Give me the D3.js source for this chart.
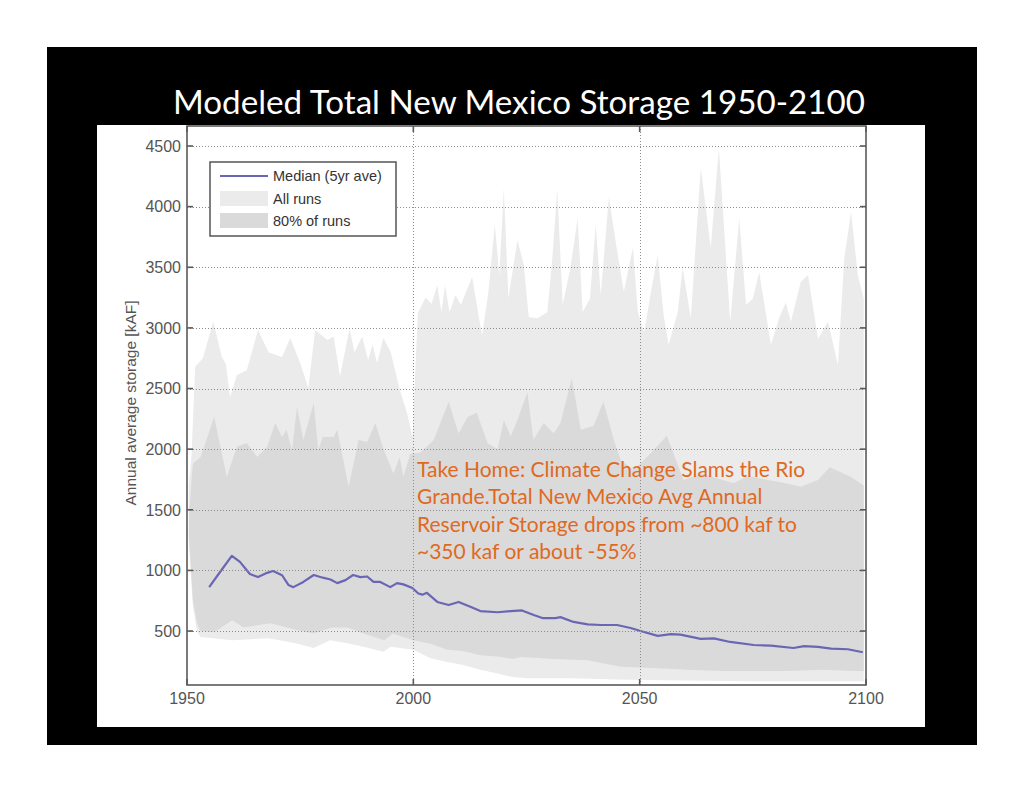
<!DOCTYPE html>
<html><head><meta charset="utf-8">
<script src="https://cdn.jsdelivr.net/npm/d3@7"></script>
<style>html,body{margin:0;padding:0;background:#fff}</style>
</head><body>
<svg id="c" width="1024" height="791"></svg>
<script>
// ---------------- data (kAF) ----------------
const xTicks = [1950, 2000, 2050, 2100];
const yTicks = [500, 1000, 1500, 2000, 2500, 3000, 3500, 4000, 4500];

// All runs – upper envelope
const maxYears = [1950.4,1951.0,1951.8,1953.5,1955.8,1957.7,1958.6,1959.5,1961,1963.2,1965.7,1968,1971,1972.8,1975,1976.8,1978.3,1981,1982.4,1983.8,1985.9,1987,1988.7,1990,1991,1992,1993.4,1995,1997,1998.6,1999.8,2001,2002.7,2004,2005.3,2006.2,2007,2008,2009.3,2010.5,2013,2014.4,2015.2,2016.6,2018,2019,2020,2021,2023,2024.4,2025.5,2027.4,2029.6,2030.7,2031.8,2033,2034.7,2036.3,2037.4,2039,2040.3,2041.4,2043.2,2044.7,2046.5,2048.5,2049.6,2051,2052.5,2054,2055.3,2056.4,2058.4,2059.5,2061.3,2063.5,2065.7,2067.5,2070,2072,2073.5,2075,2076.4,2079,2080.8,2082.3,2083.4,2085.6,2087.2,2089.4,2091.6,2093.8,2095.2,2096.7,2098.2,2099.5];
const allMax = [1700,1950,2680,2750,3050,2760,2700,2430,2610,2650,2982,2800,2760,2916,2710,2504,2982,2900,2930,2600,2995,2800,2930,2735,2860,2710,2916,2800,2490,2300,2100,3120,3250,3200,3350,3130,3350,3130,3270,3190,3420,3105,2940,3300,3850,3435,4150,3245,3725,3520,3090,3080,3130,3575,4137,3190,3495,3905,3130,3240,3850,3270,4080,3710,3300,3660,3130,2965,3300,3600,3105,2860,3130,3495,3080,4320,3660,4480,3050,3905,3190,3240,3460,2860,3080,3210,3050,3380,3435,2910,3050,2695,3575,3955,3435,3240];

// All runs – lower envelope
const minYears = [1950.4,1951.3,1952.2,1953,1955.8,1960,1968,1974,1978,1981.6,1985.4,1989,1993.4,1995,2000,2003.8,2007.5,2011,2014.8,2018.6,2022,2025,2035,2045,2055,2065,2075,2085,2095,2099.5];
const allMin = [1250,700,500,450,440,425,440,400,360,425,400,370,330,370,345,275,245,220,180,150,120,110,110,100,95,90,85,85,85,85];

// 80% of runs – upper (90th pct)
const p90Years = [1950.5,1951.3,1953,1956,1958.8,1961,1963.2,1965.5,1967.7,1969.5,1971,1972,1973.2,1974.3,1975.7,1978,1979,1980,1982.4,1983.2,1985.7,1987.9,1989.8,1991.6,1993.4,1995.6,1997,1997.8,1999.3,2001.5,2004.5,2007.8,2010,2012,2014,2016.4,2018.6,2020,2021.5,2023,2025.2,2026.5,2028.8,2031,2032.5,2035,2037,2039.8,2042,2044.3,2045.8,2048.7,2052,2056,2059.7,2063.5,2067,2070.8,2074,2078.3,2082,2085.6,2089.4,2092,2096.7,2099.5];
const p90 = [1500,1880,1935,2265,1770,2020,2050,1935,2020,2215,2100,2160,1990,2350,2075,2380,1990,2100,2100,2160,1690,2075,2060,2215,2000,1800,1935,1770,1960,1970,2075,2390,2130,2265,2300,2050,2000,2240,2105,2240,2470,2075,2215,2130,2215,2585,2160,2190,2390,2075,1910,1830,1950,2110,1745,1800,1760,1720,1780,1745,1720,1690,1745,1850,1770,1700];

// 80% of runs – lower (10th pct)
const p10Years = [1950.4,1951.3,1952.2,1953,1956,1960,1962.5,1968.4,1974,1978,1982,1985.4,1989,1993.6,1995.5,2000,2003.8,2007.5,2011,2014.8,2018.6,2022,2023.7,2031,2038.5,2045.8,2053,2060.6,2068,2075,2082.7,2090,2097.3,2099.5];
const p10 = [1300,760,570,500,490,590,530,565,510,480,530,530,480,425,480,425,395,345,335,300,290,270,285,270,260,205,195,180,170,170,170,180,170,170];

// Median (5yr ave)
const medYears = [1954.9,1957.3,1959.9,1961.7,1962.8,1963.9,1965.7,1967.7,1969,1971,1972.4,1973.5,1975.7,1978,1980,1981.7,1983.2,1985,1986.7,1988.3,1989.8,1991.2,1992.7,1994.9,1996.4,1997.8,1999.8,2001.1,2002,2003,2005.3,2007.8,2010,2012.6,2014.8,2018.6,2021.5,2024,2026.6,2028.5,2031.4,2032.5,2035.4,2038.5,2041.4,2045,2048,2050.2,2054,2056.9,2059,2063.5,2066.4,2070,2075.2,2079,2084,2086.3,2089.4,2092.3,2096,2099.3];
const median = [863,987,1120,1070,1020,970,945,980,995,960,880,862,905,962,940,925,895,920,962,945,950,905,905,862,895,885,855,810,800,815,740,715,740,700,665,655,665,670,632,607,607,615,575,555,550,550,525,500,460,475,470,435,440,410,385,380,360,375,370,355,350,325];

const titleText = "Modeled Total New Mexico Storage 1950-2100";
const yLabel = "Annual average storage [kAF]";
const legendItems = ["Median (5yr ave)", "All runs", "80% of runs"];
const noteLines = ["Take Home: Climate Change Slams the Rio",
                   "Grande.Total New Mexico Avg Annual",
                   "Reservoir Storage drops from ~800 kaf to",
                   "~350 kaf or about -55%"];

// ---------------- drawing ----------------
const svg = d3.select("#c");
svg.append("rect").attr("x",0).attr("y",0).attr("width",1024).attr("height",791).attr("fill","#fff");
svg.append("rect").attr("x",47).attr("y",47).attr("width",930).attr("height",698).attr("fill","#000");
svg.append("rect").attr("x",97).attr("y",125).attr("width",828).attr("height",602).attr("fill","#fff");

svg.append("text").attr("x",519).attr("y",114).attr("text-anchor","middle")
  .attr("fill","#fff").attr("font-family","Lato, 'Open Sans', sans-serif")
  .attr("font-size",32).attr("textLength",692).attr("lengthAdjust","spacingAndGlyphs")
  .text(titleText);

const L=187, R=866, T=126, B=685;
const x = d3.scaleLinear().domain([1950,2100]).range([L,R]);
const y = d3.scaleLinear().domain([55,4665]).range([B,T]);

svg.append("clipPath").attr("id","pc").append("rect")
  .attr("x",L).attr("y",T).attr("width",R-L).attr("height",B-T);
const g = svg.append("g").attr("clip-path","url(#pc)");

const line = d3.line().x(d=>x(d[0])).y(d=>y(d[1]));
function band(upYears, up, loYears, lo){
  const a = upYears.map((t,i)=>[t, up[i]]);
  const b = loYears.map((t,i)=>[t, lo[i]]).reverse();
  return line(a.concat(b)) + "Z";
}
g.append("path").attr("d", band(maxYears, allMax, minYears, allMin)).attr("fill","#ebebeb");
g.append("path").attr("d", band(p90Years, p90, p10Years, p10)).attr("fill","#dadada");

// grid
const grid = svg.append("g").attr("stroke","#8c8c8c").attr("stroke-width",1).attr("stroke-dasharray","1,2");
yTicks.forEach(v=>{
  grid.append("line").attr("x1",L).attr("x2",R).attr("y1",Math.round(y(v))+0.5).attr("y2",Math.round(y(v))+0.5);
});
xTicks.slice(1,-1).forEach(v=>{
  grid.append("line").attr("y1",T).attr("y2",B).attr("x1",Math.round(x(v))+0.5).attr("x2",Math.round(x(v))+0.5);
});

// median
g.append("path").attr("d", line(medYears.map((t,i)=>[t, median[i]])))
  .attr("fill","none").attr("stroke","#6a66b3").attr("stroke-width",2.2)
  .attr("stroke-linejoin","round");

// axes box + ticks
const ax = svg.append("g").attr("stroke","#5a5a5a").attr("stroke-width",1.6);
ax.append("rect").attr("x",L).attr("y",T).attr("width",R-L).attr("height",B-T).attr("fill","none");
yTicks.forEach(v=>{
  const yy=y(v);
  ax.append("line").attr("x1",L).attr("x2",L+6).attr("y1",yy).attr("y2",yy);
  ax.append("line").attr("x1",R-6).attr("x2",R).attr("y1",yy).attr("y2",yy);
});
xTicks.forEach(v=>{
  const xx=x(v);
  ax.append("line").attr("x1",xx).attr("x2",xx).attr("y1",B).attr("y2",B-6);
  ax.append("line").attr("x1",xx).attr("x2",xx).attr("y1",T).attr("y2",T+6);
});

const font = "'Liberation Sans', Arial, sans-serif";
const tl = svg.append("g").attr("font-family",font).attr("font-size",16).attr("fill","#555");
yTicks.forEach(v=>{
  tl.append("text").attr("x",L-6).attr("y",y(v)).attr("dy","0.36em").attr("text-anchor","end").text(v);
});
xTicks.forEach(v=>{
  tl.append("text").attr("x",x(v)).attr("y",704).attr("text-anchor","middle").text(v);
});
svg.append("text").attr("transform","translate(136,403) rotate(-90)")
  .attr("text-anchor","middle").attr("font-family",font).attr("font-size",15.5)
  .attr("fill","#555").text(yLabel);

// legend
const lg = svg.append("g");
lg.append("rect").attr("x",210).attr("y",162).attr("width",186).attr("height",74)
  .attr("fill","#fff").attr("stroke","#555").attr("stroke-width",1.5);
lg.append("line").attr("x1",220).attr("x2",268).attr("y1",176).attr("y2",176)
  .attr("stroke","#6a66b3").attr("stroke-width",2);
lg.append("rect").attr("x",220).attr("y",191).attr("width",48).attr("height",15).attr("fill","#ebebeb");
lg.append("rect").attr("x",220).attr("y",213).attr("width",48).attr("height",15).attr("fill","#dadada");
[176,199,221].forEach((yy,i)=>{
  lg.append("text").attr("x",273).attr("y",yy).attr("dy","0.36em")
    .attr("font-family",font).attr("font-size",14.5).attr("fill","#333").text(legendItems[i]);
});

// annotation
const nt = svg.append("g").attr("font-family","Lato, 'Open Sans', sans-serif").attr("font-size",21).attr("fill","#e0691f");
noteLines.forEach((s,i)=>{
  nt.append("text").attr("x",417).attr("y",477+i*27.3).text(s);
});
</script>
</body></html>
